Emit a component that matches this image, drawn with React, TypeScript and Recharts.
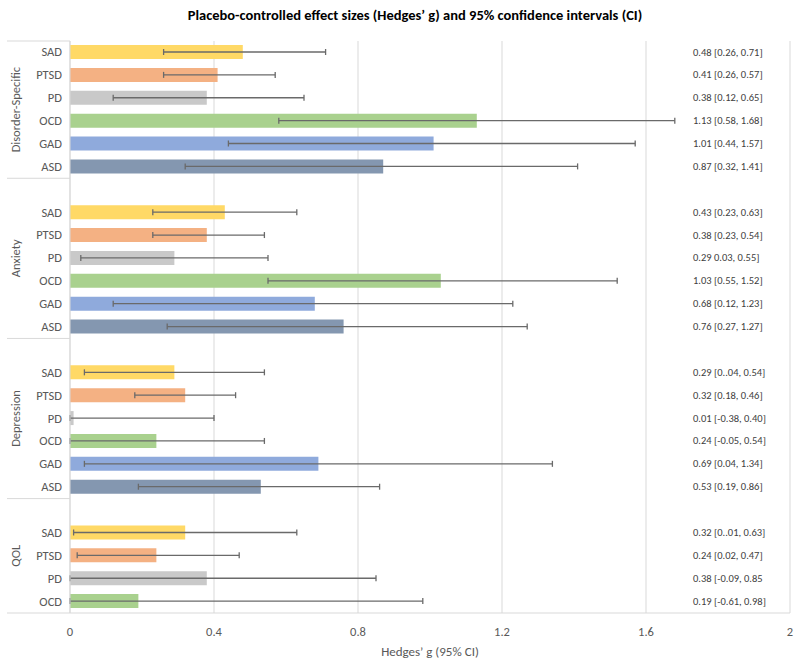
import { Bar, BarChart, CartesianGrid, Cell, ErrorBar, LabelList, XAxis, YAxis } from 'recharts';

const FONT = "Carlito, 'Liberation Sans Narrow', 'Open Sans', sans-serif";
const TEXT = '#595959';
const LINE = '#D9D9D9';
const ROW_H = 572 / 25;

const groups = ['Disorder-Specific', 'Anxiety', 'Depression', 'QOL'];
const disorders6 = ['SAD', 'PTSD', 'PD', 'OCD', 'GAD', 'ASD'];
const disordersQol = ['SAD', 'PTSD', 'PD', 'OCD'];

const specificG = [0.48, 0.41, 0.38, 1.13, 1.01, 0.87];
const specificLow = [0.26, 0.26, 0.12, 0.58, 0.44, 0.32];
const specificHigh = [0.71, 0.57, 0.65, 1.68, 1.57, 1.41];
const specificLabels = ['0.48 [0.26, 0.71]', '0.41 [0.26, 0.57]', '0.38 [0.12, 0.65]', '1.13 [0.58, 1.68]', '1.01 [0.44, 1.57]', '0.87 [0.32, 1.41]'];

const anxietyG = [0.43, 0.38, 0.29, 1.03, 0.68, 0.76];
const anxietyLow = [0.23, 0.23, 0.03, 0.55, 0.12, 0.27];
const anxietyHigh = [0.63, 0.54, 0.55, 1.52, 1.23, 1.27];
const anxietyLabels = ['0.43 [0.23, 0.63]', '0.38 [0.23, 0.54]', '0.29  0.03, 0.55]', '1.03 [0.55, 1.52]', '0.68 [0.12, 1.23]', '0.76 [0.27, 1.27]'];

const depressionG = [0.29, 0.32, 0.01, 0.24, 0.69, 0.53];
const depressionLow = [0.04, 0.18, -0.38, -0.05, 0.04, 0.19];
const depressionHigh = [0.54, 0.46, 0.40, 0.54, 1.34, 0.86];
const depressionLabels = ['0.29 [0..04, 0.54]', '0.32 [0.18, 0.46]', '0.01 [-0.38, 0.40]', '0.24 [-0.05, 0.54]', '0.69 [0.04, 1.34]', '0.53 [0.19, 0.86]'];

const qolG = [0.32, 0.24, 0.38, 0.19];
const qolLow = [0.01, 0.02, -0.09, -0.61];
const qolHigh = [0.63, 0.47, 0.85, 0.98];
const qolLabels = ['0.32 [0..01, 0.63]', '0.24 [0.02, 0.47]', '0.38 [-0.09, 0.85', '0.19 [-0.61, 0.98]'];

const xTicks = [0, 0.4, 0.8, 1.2, 1.6, 2];

const colors: Record<string, string> = {
  SAD: '#FFD966',
  PTSD: '#F4B183',
  PD: '#C9C9C9',
  OCD: '#A9D18E',
  GAD: '#8FAADC',
  ASD: '#8497B0',
};

const groupData = [
  { disorders: disorders6, g: specificG, lo: specificLow, hi: specificHigh, labels: specificLabels },
  { disorders: disorders6, g: anxietyG, lo: anxietyLow, hi: anxietyHigh, labels: anxietyLabels },
  { disorders: disorders6, g: depressionG, lo: depressionLow, hi: depressionHigh, labels: depressionLabels },
  { disorders: disordersQol, g: qolG, lo: qolLow, hi: qolHigh, labels: qolLabels },
];

type Row = {
  key: string;
  name: string;
  g?: number;
  err?: [number, number];
  label?: string;
  groupStart?: string;
  groupSpan?: number;
  groupEnd?: boolean;
};

const rows: Row[] = [];
groupData.forEach((grp, gi) => {
  const start = rows.length;
  if (gi > 0) rows.push({ key: `blank-${gi}`, name: '' });
  grp.disorders.forEach((d, i) => {
    rows.push({
      key: `${groups[gi]}-${d}`,
      name: d,
      g: grp.g[i],
      // negative lower limits are cut at zero, as the axis starts there
      err: [grp.g[i] - Math.max(grp.lo[i], 0), grp.hi[i] - grp.g[i]],
      label: grp.labels[i],
    });
  });
  rows[start].groupStart = groups[gi];
  rows[start].groupSpan = rows.length - start;
  rows[rows.length - 1].groupEnd = true;
});

const CategoryTick = (props: any) => {
  const { x, y, payload } = props;
  const idx = rows.findIndex((r) => r.key === payload.value);
  const row = rows[idx];
  if (!row) return null;
  const gy = y + ((row.groupSpan ?? 1) - 1) * ROW_H / 2;
  return (
    <g>
      {row.name && (
        <text x={x} y={y} dy={4} textAnchor="end" fill={TEXT} fontSize={12.5} fontFamily={FONT}>
          {row.name}
        </text>
      )}
      {idx === 0 && <line x1={7} x2={70} y1={y - ROW_H / 2} y2={y - ROW_H / 2} stroke={LINE} />}
      {row.groupEnd && <line x1={7} x2={70} y1={y + ROW_H / 2} y2={y + ROW_H / 2} stroke={LINE} />}
      {row.groupStart && (
        <text
          x={16}
          y={gy}
          transform={`rotate(-90 16 ${gy})`}
          textAnchor="middle"
          dy={4}
          fill={TEXT}
          fontSize={12.5}
          fontFamily={FONT}
        >
          {row.groupStart}
        </text>
      )}
    </g>
  );
};

const RightLabel = (props: any) => {
  const { y, height, value } = props;
  if (!value) return null;
  return (
    <text x={693} y={y + height / 2} dy={3.5} fill="#404040" fontSize={10.5} fontFamily={FONT}>
      {value}
    </text>
  );
};

const App = () => {
  return (
    <div style={{ position: 'absolute', left: 0, top: 0, width: 800, height: 665, background: '#fff' }}>
      <div
        style={{
          position: 'absolute',
          left: 0,
          top: 6,
          width: 830,
          textAlign: 'center',
          fontFamily: FONT,
          fontWeight: 'bold',
          fontSize: 14.5,
          color: '#000',
        }}
      >
        Placebo-controlled effect sizes (Hedges’ g) and 95% confidence intervals (CI)
      </div>
      <BarChart
        width={800}
        height={665}
        data={rows}
        layout="vertical"
        margin={{ top: 41, right: 10, bottom: 0, left: 0 }}
      >
        <CartesianGrid horizontal={false} stroke={LINE} />
        <XAxis
          type="number"
          domain={[0, 2]}
          ticks={xTicks}
          height={52}
          stroke={LINE}
          tickLine={false}
          tickMargin={8}
          tick={{ fill: TEXT, fontSize: 12.5, fontFamily: FONT }}
          label={{ value: 'Hedges\u2019 g (95% CI)', position: 'insideBottom', offset: 9, fill: TEXT, fontSize: 13, fontFamily: FONT }}
        />
        <YAxis
          type="category"
          dataKey="key"
          width={70}
          interval={0}
          stroke={LINE}
          tickLine={false}
          tick={<CategoryTick />}
        />
        <Bar dataKey="g" barSize={14} isAnimationActive={false}>
          {rows.map((r) => (
            <Cell key={r.key} fill={colors[r.name] || 'none'} />
          ))}
          <ErrorBar dataKey="err" direction="x" width={3} stroke="#6A6A6A" strokeWidth={1.3} />
          <LabelList dataKey="label" content={<RightLabel />} />
        </Bar>
      </BarChart>
    </div>
  );
};

export default App;
